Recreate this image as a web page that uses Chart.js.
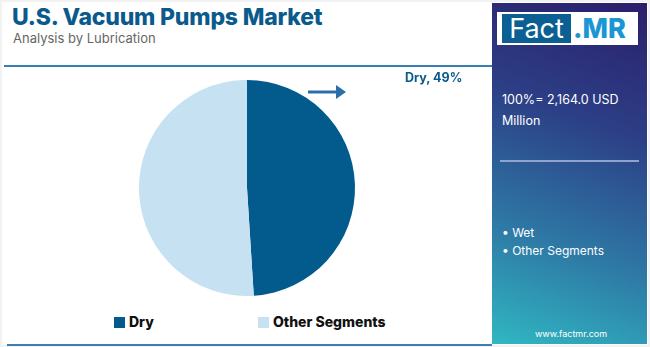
<!DOCTYPE html>
<html>
<head>
<meta charset="utf-8">
<script src="https://cdn.jsdelivr.net/npm/chart.js@4"></script>
<style>
  body { margin: 0; width: 650px; height: 347px; background: #f2f2f2; font-family: Inter, "Open Sans", sans-serif; overflow: hidden; }
  #card { position: absolute; left: 2px; top: 2px; width: 646px; height: 343px; background: #fff; }
  #title { position: absolute; left: 12px; top: 3px; font-size: 23px; font-weight: 800; color: #0b5a8c; letter-spacing: -0.2px; }
  #sub { position: absolute; left: 13px; top: 30px; font-size: 13px; color: #666; }
  #topline { position: absolute; left: 4px; top: 65px; width: 488px; height: 2px; background: #3a7fb4; }
  #botline { position: absolute; left: 7px; top: 344px; width: 485px; height: 2px; background: #3a7fb4; }
  #chartbox { position: absolute; left: 0; top: 70px; width: 492px; height: 236px; }
  #callout { position: absolute; left: 405px; top: 70px; font-size: 12.5px; font-weight: 700; color: #0b5a8c; }
  #arrow { position: absolute; left: 308px; top: 84px; }
  #legend { position: absolute; top: 313px; left: 0; font-size: 14px; font-weight: 800; color: #111; }
  .lg { position: absolute; white-space: nowrap; }
  .lg span.sw { display: inline-block; width: 11px; height: 11px; margin-right: 4px; vertical-align: -1px; }
  #panel { position: absolute; left: 492px; top: 3px; width: 155px; height: 341px;
    background: linear-gradient(200deg, #2b1e6b 0%, #2c3f86 35%, #2e7aa6 70%, #30b7c2 100%); color: #fff; }
  #logo { position: absolute; left: 5px; top: 9px; width: 141px; height: 33px; background: #fff; }
  #logo .f { position: absolute; left: 5px; top: 2px; width: 69px; height: 29px; background: #0b5f92; color: #fff; font-size: 27px; line-height: 29px; text-align: center; }
  #logo .m { position: absolute; left: 76px; top: 2px; font-size: 27px; line-height: 29px; font-weight: 800; color: #1b96d4; }
  #total { position: absolute; left: 10px; top: 86px; font-size: 12.5px; line-height: 21px; }
  #divider { position: absolute; left: 8px; top: 157px; width: 139px; height: 2px; background: #8fa3cf; }
  #segs { position: absolute; left: 10px; top: 221px; font-size: 12px; line-height: 18px; }
  #web { position: absolute; left: 43px; top: 325px; font-size: 9px; }
</style>
</head>
<body>
<div id="card"></div>
<div id="title">U.S. Vacuum Pumps Market</div>
<div id="sub">Analysis by Lubrication</div>
<div id="topline"></div>
<div id="botline"></div>
<div id="chartbox"><canvas id="chart-canvas" width="494" height="236"></canvas></div>
<svg id="arrow" width="40" height="18"><line x1="0" y1="8" x2="30" y2="8" stroke="#2a6fa8" stroke-width="3"/><polygon points="28,1 38,8 28,15" fill="#2a6fa8"/></svg>
<div id="callout"></div>
<div id="legend"></div>
<div id="panel">
  <div id="logo"><div class="f">Fact</div><div class="m">.MR</div></div>
  <div id="total">100%= 2,164.0 USD<br>Million</div>
  <div id="divider"></div>
  <div id="segs"></div>
  <div id="web">www.factmr.com</div>
</div>
<script>
let labels = ["Dry", "Other Segments"];
let shares = [49, 51];
let colors = ["#035a8d", "#c6e1f1"];
let panel_segments = ["Wet", "Other Segments"];
let legend_x = [114, 258];

document.getElementById("callout").textContent = labels[0] + ", " + shares[0] + "%";

let lg = document.getElementById("legend");
for (let i = 0; i < labels.length; i++) {
  let item = document.createElement("div");
  item.className = "lg";
  item.style.left = legend_x[i] + "px";
  item.innerHTML = '<span class="sw" style="background:' + colors[i] + '"></span>' + labels[i];
  lg.appendChild(item);
}

let segs = document.getElementById("segs");
segs.innerHTML = panel_segments.map(s => "• " + s).join("<br>");

let chart = new Chart(document.getElementById("chart-canvas"), {
  type: "pie",
  data: {
    labels: labels,
    datasets: [{
      data: shares,
      backgroundColor: colors,
      borderWidth: 0,
    }],
  },
  options: {
    responsive: false,
    animation: false,
    radius: 108,
    plugins: {
      legend: { display: false },
      tooltip: { enabled: false },
    },
  },
});
</script>
</body>
</html>
